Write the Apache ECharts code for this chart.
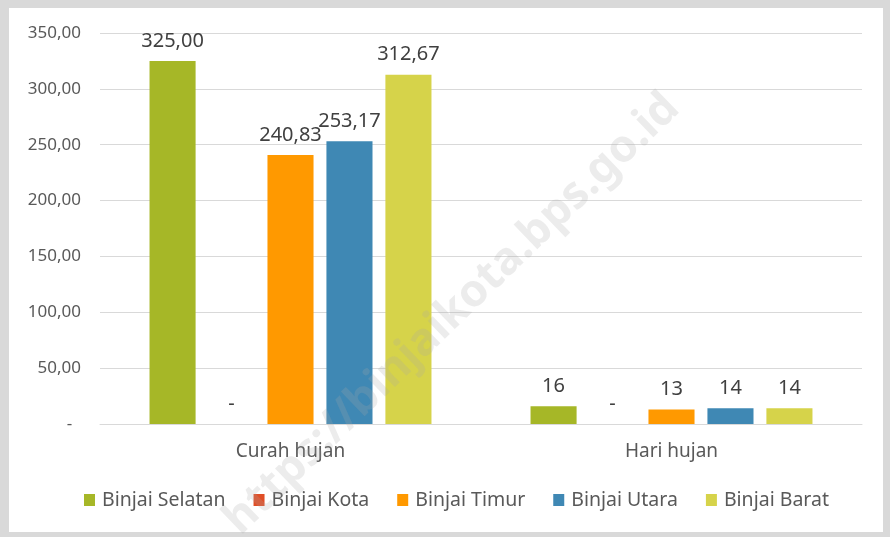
<!DOCTYPE html>
<html>
<head>
<meta charset="utf-8">
<script src="https://cdn.jsdelivr.net/npm/echarts@6/dist/echarts.min.js"></script>
<style>
html,body{margin:0;padding:0;background:#d9d9d9;}
#chart{width:890px;height:537px;}
</style>
</head>
<body>
<div id="chart"></div>
<script>
const categories = ['Curah hujan', 'Hari hujan'];
const seriesNames = ['Binjai Selatan', 'Binjai Kota', 'Binjai Timur', 'Binjai Utara', 'Binjai Barat'];
const binjaiSelatan = [325.00, 16];
const binjaiKota = [0, 0];
const binjaiTimur = [240.83, 13];
const binjaiUtara = [253.17, 14];
const binjaiBarat = [312.67, 14];
const seriesValues = [binjaiSelatan, binjaiKota, binjaiTimur, binjaiUtara, binjaiBarat];
const colors = ['#A6B727', '#E04E26', '#FF9900', '#3F88B4', '#D6D34A'];

const FONT = 'Noto Sans';

function fmtComma(v) { return v.toFixed(2).replace('.', ','); }

const chart = echarts.init(document.getElementById('chart'), null, {renderer: 'canvas'});
chart.setOption({
  backgroundColor: '#d9d9d9',
  animation: false,
  textStyle: {fontFamily: FONT},
  graphic: [
    {type: 'rect', z: -10, silent: true, shape: {x: 9, y: 8, width: 874, height: 524}, style: {fill: '#ffffff'}},
    {type: 'text', z: 100, silent: true, x: 452, y: 314, rotation: 44 * Math.PI / 180,
      style: {text: 'https://binjaikota.bps.go.id', fontSize: 45, fontWeight: 'bold', fontFamily: FONT,
        fill: 'rgba(170,170,170,0.22)', textAlign: 'center', textVerticalAlign: 'middle'}}
  ],
  grid: {left: 100, right: 28, top: 33, bottom: 113},
  legend: {
    bottom: 22, left: 79,
    itemWidth: 11, itemHeight: 12, itemGap: 28,
    icon: 'rect',
    textStyle: {fontSize: 19.5, color: '#595959', fontFamily: FONT, padding: [0, 0, 0, 2]},
    data: seriesNames
  },
  xAxis: {
    type: 'category',
    data: categories,
    axisLine: {lineStyle: {color: '#d9d9d9', width: 1}},
    axisTick: {show: false},
    axisLabel: {fontSize: 19, color: '#595959', margin: 18, fontFamily: FONT}
  },
  yAxis: {
    type: 'value',
    min: 0, max: 350, interval: 50,
    axisLine: {show: false},
    axisTick: {show: false},
    splitLine: {lineStyle: {color: '#d9d9d9', width: 1}},
    axisLabel: {fontSize: 17, color: '#595959', margin: 19, fontFamily: FONT,
      formatter: v => v === 0 ? '-  ' : fmtComma(v)}
  },
  series: seriesNames.map((name, i) => ({
    name: name,
    type: 'bar',
    data: seriesValues[i],
    barGap: '28%',
    barCategoryGap: '26%',
    itemStyle: {color: colors[i]},
    label: {
      show: true, position: 'top', distance: 10,
      fontSize: 20, color: '#404040', fontFamily: FONT,
      formatter: p => p.value === 0 ? '-' : (p.dataIndex === 0 ? fmtComma(p.value) : String(Math.round(p.value)))
    }
  }))
});
</script>
</body>
</html>
